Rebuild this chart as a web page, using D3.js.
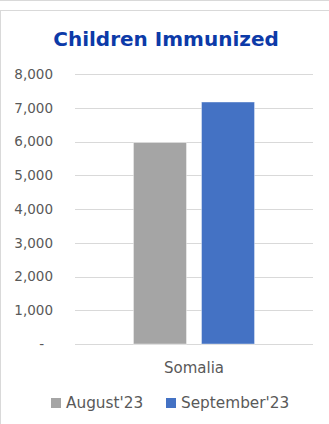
<!DOCTYPE html>
<html>
<head>
<meta charset="utf-8">
<script src="https://cdn.jsdelivr.net/npm/d3@7"></script>
<style>
  body { margin: 0; background: #fff; }
  svg { display: block; font-family: "DejaVu Sans", Verdana, sans-serif; }
</style>
</head>
<body>
<div id="chart"></div>
<script>
// chart data
var categories = ["Somalia"];
var seriesNames = ["August'23", "September'23"];
var august = [5970];
var september = [7170];
var yTicks = [0, 1000, 2000, 3000, 4000, 5000, 6000, 7000, 8000];
var colors = ["#a5a5a5", "#4472c4"];

var svgWidth = 329;
var svgHeight = 424;

var margin = { top: 74, right: 16, bottom: 80, left: 75 };
var width = svgWidth - margin.left - margin.right;
var height = svgHeight - margin.top - margin.bottom;

var svg = d3.select("#chart")
  .append("svg")
  .attr("width", svgWidth)
  .attr("height", svgHeight);

// outer frame
svg.append("line")
  .attr("x1", 0).attr("x2", svgWidth)
  .attr("y1", 0.5).attr("y2", 0.5)
  .attr("stroke", "#d9d9d9");
svg.append("rect")
  .attr("x", 0.5).attr("y", 10.5)
  .attr("width", svgWidth + 5).attr("height", svgHeight)
  .attr("fill", "none")
  .attr("stroke", "#d9d9d9");

// title
svg.append("text")
  .attr("x", 166)
  .attr("y", 46)
  .attr("text-anchor", "middle")
  .attr("font-size", "20px")
  .attr("font-weight", "bold")
  .attr("fill", "#0c3aa8")
  .text("Children Immunized");

var chartGroup = svg.append("g")
  .attr("transform", `translate(${margin.left}, ${margin.top})`);

// scales
var x0 = d3.scaleBand()
  .domain(categories)
  .range([0, width])
  .paddingInner(0)
  .paddingOuter(0.483);

var x1 = d3.scaleBand()
  .domain(seriesNames)
  .range([0, x0.bandwidth()])
  .paddingInner(0.221);

var yScale = d3.scaleLinear()
  .domain([0, 8000])
  .range([height, 0]);

// gridlines
chartGroup.selectAll(".grid")
  .data(yTicks)
  .enter()
  .append("line")
  .attr("x1", 0).attr("x2", width)
  .attr("y1", d => Math.round(yScale(d)) + 0.5)
  .attr("y2", d => Math.round(yScale(d)) + 0.5)
  .attr("stroke", "#d9d9d9")
  .attr("stroke-width", 1);

// y axis labels
var leftAxis = d3.axisLeft(yScale)
  .tickValues(yTicks)
  .tickSize(0)
  .tickPadding(22)
  .tickFormat(d => d === 0 ? "-" : d3.format(",")(d));

var yAxis = chartGroup.append("g").call(leftAxis);
yAxis.select(".domain").remove();
yAxis.selectAll("text")
  .attr("font-family", "DejaVu Sans, Verdana, sans-serif")
  .attr("font-size", "13.5px")
  .attr("fill", "#595959");
yAxis.selectAll("text")
  .filter(d => d === 0)
  .attr("dx", "-9px");

// bars
var rows = categories.map((c, i) => ({
  category: c,
  values: [
    { name: seriesNames[0], value: august[i] },
    { name: seriesNames[1], value: september[i] }
  ]
}));

var groups = chartGroup.selectAll(".group")
  .data(rows)
  .enter()
  .append("g")
  .attr("transform", d => `translate(${x0(d.category)}, 0)`);

groups.selectAll("rect")
  .data(d => d.values)
  .enter()
  .append("rect")
  .attr("x", d => x1(d.name))
  .attr("y", d => yScale(d.value))
  .attr("width", x1.bandwidth())
  .attr("height", d => height - yScale(d.value))
  .attr("fill", (d, i) => colors[i])
  .attr("stroke", "#ffffff")
  .attr("stroke-opacity", 0.4)
  .attr("stroke-width", 1);

// category label
var bottomAxis = d3.axisBottom(x0).tickSize(0).tickPadding(18);
var xAxis = chartGroup.append("g")
  .attr("transform", `translate(0, ${height})`)
  .call(bottomAxis);
xAxis.select(".domain").remove();
xAxis.selectAll("text")
  .attr("font-family", "DejaVu Sans, Verdana, sans-serif")
  .attr("font-size", "15px")
  .attr("fill", "#595959");

// legend
var legendX = [51, 166];
var legend = svg.selectAll(".legend")
  .data(seriesNames)
  .enter()
  .append("g")
  .attr("transform", (d, i) => `translate(${legendX[i]}, 398)`);

legend.append("rect")
  .attr("width", 10)
  .attr("height", 10)
  .attr("fill", (d, i) => colors[i]);

legend.append("text")
  .attr("x", 15)
  .attr("y", 10)
  .attr("font-size", "15.3px")
  .attr("fill", "#595959")
  .text(d => d);
</script>
</body>
</html>
